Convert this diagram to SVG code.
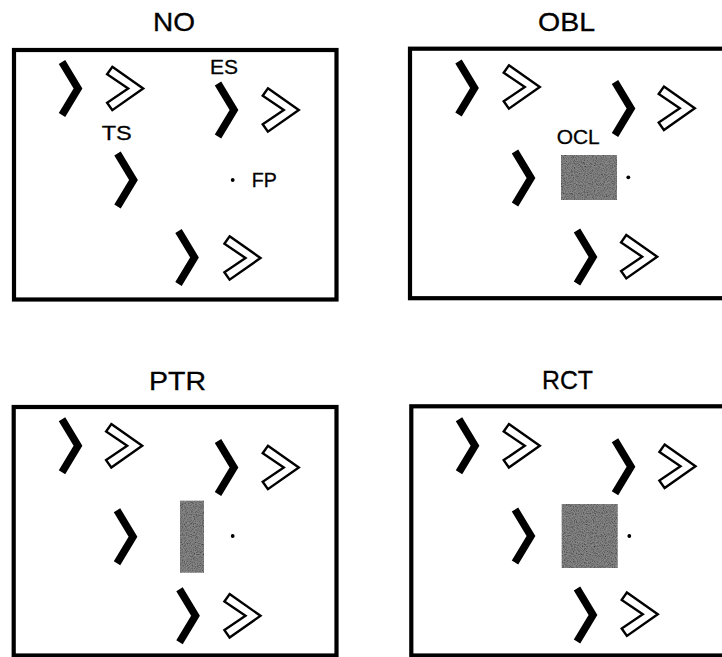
<svg xmlns="http://www.w3.org/2000/svg" width="722" height="657" viewBox="0 0 722 657">
  <style>
    .frame { fill: none; stroke: #000; stroke-width: 4.2; }
    .title { font-family: "Liberation Sans", Arial, sans-serif; font-size: 25px; fill: #000; stroke: #000; stroke-width: 0.3; text-anchor: middle; }
    .lbl { font-family: "Liberation Sans", Arial, sans-serif; font-size: 20px; fill: #000; stroke: #000; stroke-width: 0.3; }
    .occ { fill: #868686; filter: url(#grain); }
  </style>
  <defs>
    <!-- solid chevron: centre-line apex at origin -->
    <polyline id="blk" points="-16,-26.5 0,0 -16,26.5" fill="none" stroke="#000" stroke-width="7.5" stroke-linejoin="miter" stroke-miterlimit="10"/>
    <!-- outlined chevron: centre-line apex at origin -->
    <polygon id="hol" points="-23.4,-21.7 7.5,0 -23.4,21.7 -28.6,14.3 -7.5,0 -28.6,-14.3" fill="#fff" stroke="#000" stroke-width="2.4" stroke-linejoin="miter" stroke-miterlimit="10"/>
    <!-- stippled grey for the occluder -->
    <filter id="grain" x="0" y="0" width="1" height="1">
      <feTurbulence type="fractalNoise" baseFrequency="0.9" numOctaves="2" seed="3" result="n"/>
      <feColorMatrix in="n" type="matrix" values="0 0 0 0 0  0 0 0 0 0  0 0 0 0 0  0 0 0 -1.6 1.0" result="dots"/>
      <feComposite in="dots" in2="SourceGraphic" operator="in" result="d2"/>
      <feMerge><feMergeNode in="SourceGraphic"/><feMergeNode in="d2"/></feMerge>
    </filter>
  </defs>

  <!-- NO: no occluder -->
  <g id="panel-no">
    <text class="title" x="174" y="31" textLength="42" lengthAdjust="spacingAndGlyphs">NO</text>
    <rect class="frame" x="14" y="50" width="322.5" height="249.5"/>
    <use href="#blk" x="78" y="88.5"/>
    <use href="#hol" x="135.7" y="88.5"/>
    <use href="#blk" x="234" y="110"/>
    <use href="#hol" x="291.3" y="110"/>
    <use href="#blk" x="133.5" y="180"/>
    <use href="#blk" x="194.5" y="257.5"/>
    <use href="#hol" x="253" y="258"/>
    <circle cx="232.7" cy="180" r="1.9" fill="#000"/>
    <text class="lbl" x="101.7" y="140" textLength="30" lengthAdjust="spacingAndGlyphs">TS</text>
    <text class="lbl" x="210" y="74" textLength="28" lengthAdjust="spacingAndGlyphs">ES</text>
    <text class="lbl" x="251.7" y="187" textLength="25" lengthAdjust="spacingAndGlyphs">FP</text>
  </g>

  <!-- OBL: oblong occluder -->
  <g id="panel-obl">
    <text class="title" x="566.5" y="31" textLength="57" lengthAdjust="spacingAndGlyphs">OBL</text>
    <rect class="frame" x="410" y="48.7" width="330" height="249.5"/>
    <use href="#blk" x="474.5" y="88"/>
    <use href="#hol" x="532.3" y="87"/>
    <use href="#blk" x="631" y="108.5"/>
    <use href="#hol" x="687.3" y="108.3"/>
    <use href="#blk" x="531" y="178"/>
    <use href="#blk" x="593" y="257"/>
    <use href="#hol" x="649.7" y="256.7"/>
    <rect class="occ" x="561" y="155" width="56" height="45"/>
    <circle cx="628.3" cy="177.3" r="1.9" fill="#000"/>
    <text class="lbl" x="556.7" y="144" textLength="43" lengthAdjust="spacingAndGlyphs">OCL</text>
  </g>

  <!-- PTR: narrow occluder -->
  <g id="panel-ptr">
    <text class="title" x="177.5" y="390" textLength="57" lengthAdjust="spacingAndGlyphs">PTR</text>
    <rect class="frame" x="13.7" y="407" width="322.8" height="248.5"/>
    <use href="#blk" x="78" y="445.8"/>
    <use href="#hol" x="134.7" y="445.8"/>
    <use href="#blk" x="234" y="467.5"/>
    <use href="#hol" x="291.3" y="467.5"/>
    <use href="#blk" x="133" y="536.7"/>
    <use href="#blk" x="195.5" y="615.8"/>
    <use href="#hol" x="253" y="615.8"/>
    <rect class="occ" x="180" y="500.7" width="24" height="72"/>
    <circle cx="232.7" cy="536" r="1.9" fill="#000"/>
  </g>

  <!-- RCT: square occluder -->
  <g id="panel-rct">
    <text class="title" x="567.5" y="388.5" textLength="51" lengthAdjust="spacingAndGlyphs">RCT</text>
    <rect class="frame" x="411.3" y="406.3" width="330" height="249.2"/>
    <use href="#blk" x="475" y="445.8"/>
    <use href="#hol" x="532.3" y="445.8"/>
    <use href="#blk" x="631" y="466.7"/>
    <use href="#hol" x="688" y="466.3"/>
    <use href="#blk" x="531" y="536"/>
    <use href="#blk" x="593" y="615"/>
    <use href="#hol" x="650.3" y="614.2"/>
    <rect class="occ" x="561.7" y="504" width="56" height="64"/>
    <circle cx="629.3" cy="536" r="1.9" fill="#000"/>
  </g>

  <g id="connectors"/>
</svg>
